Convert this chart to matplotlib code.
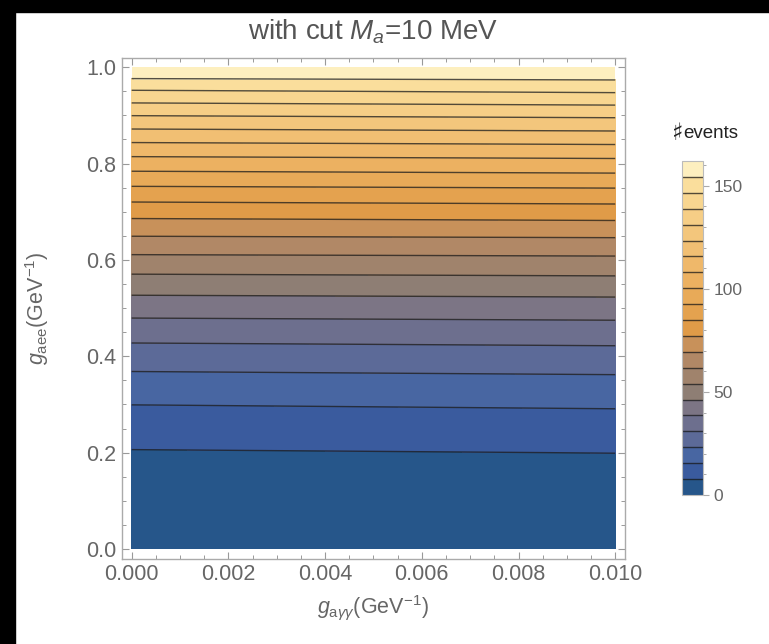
import numpy as np
import matplotlib
matplotlib.use("Agg")
import matplotlib.pyplot as plt
from matplotlib.colors import ListedColormap
from matplotlib.patches import Rectangle
from matplotlib.ticker import MultipleLocator, FormatStrFormatter

plt.rcParams["font.family"] = ["Liberation Sans", "DejaVu Sans"]
plt.rcParams["mathtext.fontset"] = "custom"
plt.rcParams["mathtext.rm"] = "Liberation Sans"
plt.rcParams["mathtext.it"] = "Liberation Sans:italic"
plt.rcParams["mathtext.bf"] = "Liberation Sans:bold"

# photon coupling g_ayy (GeV^-1)
g_ayy = [0.000, 0.010]
# electron coupling g_aee (GeV^-1)
g_aee = [0.00, 0.05, 0.10, 0.15, 0.20, 0.25, 0.30, 0.35, 0.40, 0.45, 0.50,
         0.55, 0.60, 0.65, 0.70, 0.75, 0.80, 0.85, 0.90, 0.95, 1.00]
# number of events after the cut, M_a = 10 MeV
events_gayy_0 = [0.0, 0.5, 1.8, 4.0, 7.2, 11.3, 15.5, 20.9, 27.0, 34.0, 41.8,
                 50.2, 59.5, 69.6, 80.1, 91.9, 104.2, 117.4, 131.3, 145.9, 161.8]
events_gayy_001 = [0.0, 0.5, 2.0, 4.4, 7.8, 11.9, 16.2, 21.7, 27.8, 34.8, 42.4,
                   50.9, 60.1, 70.2, 81.1, 92.8, 105.2, 118.5, 132.5, 147.4, 162.0]
n_bands = 21

band_colors = ["#26568A", "#3A5B9E", "#4866A2", "#5C6A98", "#6D6F8E", "#7C7585",
               "#8E7E74", "#A0836C", "#B18866", "#C8915A", "#E09B48", "#E4A24F",
               "#E8AA58", "#ECB161", "#EFB86A", "#F1BF73", "#F3C67C", "#F6CE86",
               "#F8D690", "#FADE9C", "#FDEFBF"]
cmap = ListedColormap(band_colors)

X = np.array(g_ayy)
Y = np.array(g_aee)
Z = np.column_stack([events_gayy_0, events_gayy_001])
zmax = Z.max()
levels = np.linspace(0.0, zmax, n_bands + 1)

fig = plt.figure(figsize=(7.69, 6.44), dpi=100)
fig.patch.set_facecolor("white")

ax = fig.add_axes([0.1586, 0.1326, 0.654, 0.778])
cf = ax.contourf(X, Y, Z, levels=levels, cmap=cmap, vmin=0, vmax=zmax)
cs = ax.contour(X, Y, Z, levels=levels[1:-1], colors="#1a1a1a",
                linewidths=1.0, alpha=0.75)

pad_x = 0.02 * 0.010
pad_y = 0.02 * 1.0
ax.set_xlim(-pad_x, 0.010 + pad_x)
ax.set_ylim(-pad_y, 1.0 + pad_y)

ax.xaxis.set_major_locator(MultipleLocator(0.002))
ax.xaxis.set_minor_locator(MultipleLocator(0.0005))
ax.yaxis.set_major_locator(MultipleLocator(0.2))
ax.yaxis.set_minor_locator(MultipleLocator(0.05))
ax.xaxis.set_major_formatter(FormatStrFormatter("%.3f"))
ax.yaxis.set_major_formatter(FormatStrFormatter("%.1f"))

gray = "#666666"
ax.tick_params(which="both", direction="in", top=True, right=True,
               color="#999999", labelcolor=gray, labelsize=15.5)
ax.tick_params(which="major", length=5, width=0.8, pad=4)
ax.tick_params(which="minor", length=3, width=0.7)
for s in ax.spines.values():
    s.set_color("#aaaaaa")
    s.set_linewidth(1.0)

ax.set_xlabel(r"$g_{\mathrm{a}\gamma\gamma}$(GeV$^{-1}$)", color=gray,
              fontsize=15.5, labelpad=6)
ax.set_ylabel(r"$g_{\mathrm{aee}}$(GeV$^{-1}$)", color=gray,
              fontsize=15.5, labelpad=25)
ax.set_title(r"with cut $M_a$=10 MeV", color="#555555", fontsize=20, pad=13)

# colour legend
cax = fig.add_axes([0.8869, 0.2314, 0.0273, 0.5186])
cb = fig.colorbar(cf, cax=cax)
cb.add_lines(cs)
cb.set_ticks([0, 50, 100, 150])
cax.yaxis.set_minor_locator(MultipleLocator(10))
cax.tick_params(which="both", direction="out", color="#aaaaaa",
                labelcolor=gray, labelsize=12.5)
cax.tick_params(which="major", length=4, width=0.8)
cax.tick_params(which="minor", length=2.5, width=0.7)
cb.outline.set_edgecolor("#bbbbbb")
cb.outline.set_linewidth(0.8)
fig.text(683 / 769, 1 - 133 / 644, "\u266f", ha="right", va="center",
         fontsize=17, color="#222222", family=["DejaVu Sans"])
fig.text(683 / 769, 1 - 133 / 644, "events", ha="left", va="center",
         fontsize=13.5, color="#222222")

# dark margin along the top and left edges
fig.add_artist(Rectangle((0, 1 - 12 / 644), 1, 12 / 644,
                         transform=fig.transFigure, color="black", zorder=10))
fig.add_artist(Rectangle((0, 0), 15 / 769, 1,
                         transform=fig.transFigure, color="black", zorder=10))

fig.savefig("out.png", dpi=100, facecolor="white")
